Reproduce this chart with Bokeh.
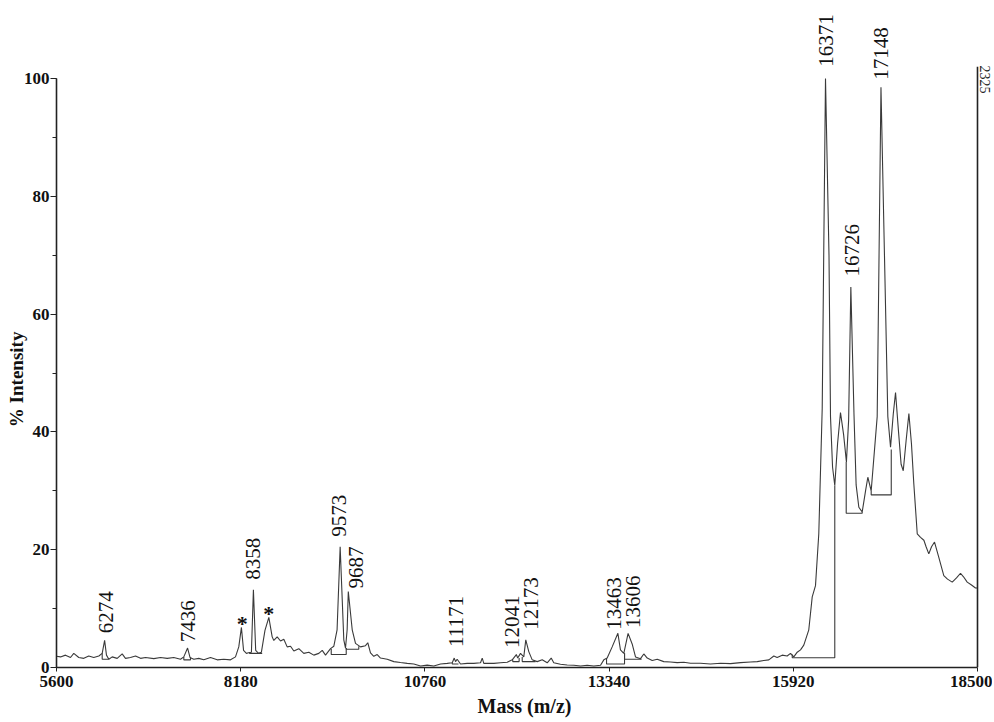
import numpy as np
from bokeh.plotting import figure
from bokeh.models import FixedTicker, SingleIntervalTicker, Range1d
from bokeh.core.properties import value
from bokeh.embed import file_html
from bokeh.resources import INLINE

# ---- data -------------------------------------------------------------
mass = [5600, 5656, 5726, 5796, 5842, 5912, 5982, 6052, 6122, 6193, 6240, 6274, 6300, 6333,
        6380, 6450, 6520, 6566, 6636, 6707, 6777, 6847, 6963, 7057, 7151, 7243, 7337, 7383,
        7436, 7470, 7523, 7593, 7663, 7757, 7851, 7943, 8037, 8107, 8153, 8190, 8220, 8260,
        8290, 8330, 8358, 8390, 8430, 8470, 8520, 8574, 8621, 8644, 8691, 8738, 8784, 8831,
        8878, 8924, 8994, 9064, 9134, 9204, 9274, 9322, 9368, 9438, 9484, 9530, 9573, 9624,
        9648, 9671, 9687, 9742, 9788, 9858, 9928, 9960, 9998, 10044, 10092, 10138, 10232,
        10325, 10418, 10512, 10605, 10699, 10792, 10885, 10979, 11073, 11143, 11171, 11189,
        11212, 11259, 11353, 11445, 11539, 11563, 11585, 11726, 11819, 11913, 11983, 12041,
        12060, 12099, 12145, 12173, 12215, 12263, 12333, 12403, 12473, 12529, 12565, 12659,
        12753, 12846, 12940, 13033, 13126, 13220, 13266, 13313, 13383, 13463, 13499, 13546,
        13606, 13663, 13710, 13780, 13826, 13874, 13944, 14014, 14106, 14200, 14294, 14387,
        14480, 14620, 14760, 14901, 15041, 15181, 15321, 15415, 15507, 15577, 15647, 15694,
        15765, 15834, 15881, 15927, 15975, 16021, 16067, 16137, 16185, 16231, 16277, 16325,
        16350, 16371, 16420, 16441, 16470, 16501, 16540, 16581, 16625, 16664, 16695, 16726,
        16770, 16800, 16838, 16885, 16932, 16964, 17011, 17095, 17148, 17244, 17282, 17320,
        17352, 17394, 17430, 17460, 17500, 17539, 17575, 17608, 17656, 17702, 17749, 17780,
        17818, 17856, 17898, 17958, 18028, 18080, 18146, 18206, 18262, 18304, 18356, 18416,
        18472, 18500]
intensity = [1.9, 1.8, 2.1, 1.7, 2.4, 1.7, 1.55, 1.95, 1.7, 1.95, 2.4, 4.6, 2.1, 1.4,
             1.8, 1.55, 2.3, 1.55, 1.7, 1.95, 1.55, 1.7, 1.5, 1.7, 1.55, 1.7, 1.4, 1.8,
             3.3, 1.7, 1.4, 1.55, 1.3, 1.7, 1.3, 1.4, 1.3, 1.8, 3.5, 6.8, 2.9, 2.4,
             2.5, 2.6, 13.2, 2.9, 2.4, 2.6, 6.3, 8.5, 5.2, 4.6, 5.2, 4.5, 4.8, 3.5,
             3.6, 2.8, 3.2, 2.4, 2.6, 2.1, 2.4, 2.9, 2.1, 3.2, 3.6, 6.4, 20.5, 4.7,
             3.3, 6.4, 12.9, 6.4, 4.1, 3.5, 3.7, 4.2, 2.5, 1.9, 2.2, 1.6, 1.4,
             1.0, 0.85, 0.7, 0.6, 0.25, 0.4, 0.25, 0.6, 0.7, 0.8, 1.6, 1.0,
             1.4, 0.6, 0.7, 0.7, 0.8, 1.6, 0.7, 0.7, 0.8, 0.9, 1.3, 2.2,
             1.6, 2.4, 1.8, 4.7, 2.7, 1.3, 1.0, 1.3, 0.8, 1.6, 0.8, 0.55,
             0.42, 0.37, 0.25, 0.37, 0.25, 0.37, 1.3, 1.6, 3.5, 5.8, 3.0, 2.4,
             5.8, 4.0, 1.8, 1.5, 2.3, 1.6, 1.2, 1.4, 1.0, 0.93, 0.82, 0.88,
             0.71, 0.71, 0.6, 0.71, 0.65, 0.82, 0.93, 1.0, 1.2, 1.3, 1.95, 1.7,
             2.1, 1.95, 2.4, 1.8, 2.6, 3.0, 3.8, 6.4, 12.0, 13.9, 22.7, 44,
             75, 100, 70, 42.6, 34, 30.9, 38, 43.3, 39.5, 34.9, 42, 64.6,
             43, 31, 27.2, 26.4, 30, 32.3, 30, 42.6, 98.5, 42.6, 37.4, 43,
             46.7, 40, 34.5, 33.4, 38.5, 43.1, 38, 31.2, 22.7, 22.1, 21.6, 20.5,
             19.3, 20.5, 21.3, 18.7, 15.6, 15.0, 14.5, 15.2, 16.0, 15.4, 14.5, 14.0,
             13.5, 13.5]

# peak-integration boxes (left/right mass, baseline, heights of the two uprights)
box_left = [6240, 7383, 8303, 9448, 9658, 11143, 11990, 12123, 13304, 13556, 15905, 16661, 17011]
box_right = [6333, 7477, 8481, 9658, 9834, 11230, 12080, 12310, 13556, 13790, 16501, 16885, 17292]
box_base = [1.4, 1.3, 2.4, 2.2, 3.1, 0.6, 1.0, 1.0, 0.6, 1.4, 1.65, 26.2, 29.3]
box_top_left = [2.4, 1.8, 2.6, 3.2, 3.3, 0.8, 1.3, 1.8, 1.6, 2.4, 2.2, 34.9, 30.0]
box_top_right = [1.4, 1.7, 2.4, 3.3, 3.6, 0.6, 1.6, 1.0, 2.4, 1.5, 30.9, 26.4, 37.0]

peak_labels = ["6274", "7436", "8358", "9573", "9687", "11171", "12041", "12173",
               "13463", "13606", "16371", "16726", "17148"]
label_mass = [6295, 7440, 8350, 9554, 9788, 11189, 11983, 12246, 13406, 13668, 16385, 16744, 17142]
label_base = [5.8, 4.3, 14.9, 22.2, 13.4, 3.5, 3.3, 6.4, 6.4, 6.7, 102.0, 66.4, 99.8]

star_mass = [8201, 8574]
star_y = [7.4, 9.1]

x_ticks = [5600, 8180, 10760, 13340, 15920, 18500]
x_min, x_max = 5600, 18500
max_count = "2325"
max_line_top = 102.0

# ---- figure -----------------------------------------------------------
FW, FH = 936, 657
px_per_unit_x = 921 / (x_max - x_min)
y_top = FH / 5.89

p = figure(output_backend="svg", toolbar_location=None,
           x_range=Range1d(x_min, x_min + FW / px_per_unit_x),
           y_range=Range1d(0, y_top),
           frame_width=FW, frame_height=FH,
           min_border_left=56, min_border_top=10, min_border_right=0, min_border_bottom=47)
p.outline_line_color = None
p.xgrid.visible = False
p.ygrid.visible = False
p.background_fill_color = "white"

LINE = "#3a3a3a"

p.line(mass, intensity, line_color=LINE, line_width=1.1)

xs = [[l, l, r, r] for l, r in zip(box_left, box_right)]
ys = [[tl, b, b, tr] for tl, b, tr in zip(box_top_left, box_base, box_top_right)]
p.multi_line(xs, ys, line_color=LINE, line_width=1.1)

# right-hand vertical bar with max count
p.segment(x0=[x_max], y0=[0], x1=[x_max], y1=[max_line_top], line_color="#222222", line_width=1.6)
p.text(x=[x_max + 105], y=[max_line_top + 0.2], text=[max_count], angle=-np.pi / 2,
       text_font=value("Liberation Serif"), text_font_size="14px",
       text_align="left", text_baseline="middle", text_color="#222222")

p.text(x=label_mass, y=label_base, text=peak_labels, angle=np.pi / 2,
       text_font=value("Liberation Serif"), text_font_size="21px",
       text_align="left", text_baseline="middle", text_color="#111111")

p.text(x=star_mass, y=star_y, text=["*", "*"],
       text_font=value("Liberation Serif"), text_font_size="22px", text_font_style="bold",
       text_align="center", text_baseline="middle", text_color="#111111")

# axes
for ax in (p.xaxis[0], p.yaxis[0]):
    ax.axis_line_color = "#222222"
    ax.axis_line_width = 1.6
    ax.major_tick_line_color = "#222222"
    ax.minor_tick_line_color = "#222222"
    ax.major_tick_in = 0
    ax.minor_tick_in = 0
    ax.major_label_text_font = "Liberation Serif"
    ax.major_label_text_font_style = "bold"
    ax.major_label_text_font_size = "17px"
    ax.major_label_text_color = "#111111"
    ax.axis_label_text_font = "Liberation Serif"
    ax.axis_label_text_font_style = "bold"
    ax.axis_label_text_color = "#111111"

p.xaxis.ticker = FixedTicker(ticks=x_ticks, minor_ticks=[])
p.xaxis.bounds = (x_min, x_max)
p.xaxis.major_tick_out = 4
p.xaxis.major_label_standoff = 4
p.xaxis.axis_label = "Mass (m/z)"
p.xaxis.axis_label_text_font_size = "20px"
p.xaxis.axis_label_standoff = 5

p.yaxis.ticker = SingleIntervalTicker(interval=20, num_minor_ticks=2)
p.yaxis.bounds = (0, 100)
p.yaxis.major_tick_out = 6
p.yaxis.minor_tick_out = 4
p.yaxis.major_label_standoff = 1
# trailing no-break spaces shift the centred label down toward the middle of the 0-100 axis
p.yaxis.axis_label = "% Intensity" + "\u00a0" * 17
p.yaxis.axis_label_text_font_size = "19px"
p.yaxis.axis_label_standoff = -6

open("out.html", "w").write(file_html(p, INLINE))
